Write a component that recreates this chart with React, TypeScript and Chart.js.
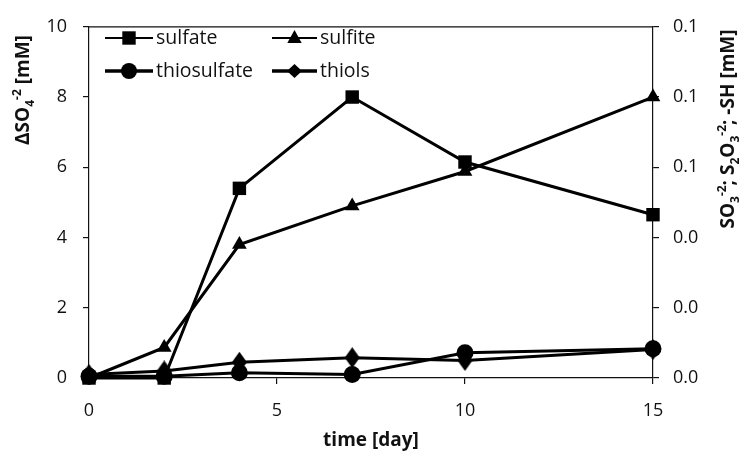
import React, { useEffect, useRef } from 'react';
import { Chart, registerables } from 'chart.js';
Chart.register(...registerables);

const days = [0, 2, 4, 7, 10, 15];
const sulfate = [0, 0, 5.4, 8.0, 6.15, 4.65];
const sulfite = [0, 0.0087, 0.038, 0.049, 0.0588, 0.08];
const thiosulfate = [0.0005, 0.0005, 0.0015, 0.001, 0.0072, 0.0083];
const thiols = [0.001, 0.002, 0.0045, 0.0058, 0.005, 0.0081];
const seriesLabels = ['sulfate', 'sulfite', 'thiosulfate', 'thiols'];

const FONT = '"Open Sans", "DejaVu Sans", sans-serif';
const INK = '#111';

type Seg = { t: string; k?: 'sub' | 'sup' };

const leftTitle: Seg[] = [{ t: 'ΔSO' }, { t: '4', k: 'sub' }, { t: '-2', k: 'sup' }, { t: ' [mM]' }];
const rightTitle: Seg[] = [
  { t: 'SO' }, { t: '3', k: 'sub' }, { t: '-2', k: 'sup' }, { t: '; S' }, { t: '2', k: 'sub' },
  { t: 'O' }, { t: '3', k: 'sub' }, { t: '-2', k: 'sup' }, { t: '; -SH [mM]' },
];

function drawRich(ctx: CanvasRenderingContext2D, segs: Seg[], cx: number, cy: number, rot: number, size: number) {
  ctx.save();
  ctx.translate(cx, cy);
  ctx.rotate(rot);
  ctx.fillStyle = INK;
  ctx.textBaseline = 'alphabetic';
  ctx.textAlign = 'left';
  const fontFor = (k?: string) => `bold ${k ? Math.round(size * 0.65) : size}px ${FONT}`;
  const widths = segs.map((s) => {
    ctx.font = fontFor(s.k);
    return ctx.measureText(s.t).width;
  });
  const total = widths.reduce((a, b) => a + b, 0);
  let x = -total / 2;
  const base = size * 0.36;
  segs.forEach((s, i) => {
    ctx.font = fontFor(s.k);
    const dy = s.k === 'sub' ? size * 0.25 : s.k === 'sup' ? -size * 0.42 : 0;
    ctx.fillText(s.t, x, base + dy);
    x += widths[i];
  });
  ctx.restore();
}

function makeDiamond(w: number, h: number): HTMLCanvasElement {
  const c = document.createElement('canvas');
  c.width = w;
  c.height = h;
  const g = c.getContext('2d')!;
  g.fillStyle = '#000';
  g.beginPath();
  g.moveTo(w / 2, 0);
  g.lineTo(w, h / 2);
  g.lineTo(w / 2, h);
  g.lineTo(0, h / 2);
  g.closePath();
  g.fill();
  return c;
}

function drawMarker(ctx: CanvasRenderingContext2D, kind: string, x: number, y: number) {
  ctx.fillStyle = '#000';
  ctx.beginPath();
  if (kind === 'square') {
    ctx.rect(x - 6.7, y - 6.7, 13.4, 13.4);
  } else if (kind === 'triangle') {
    ctx.moveTo(x, y - 8);
    ctx.lineTo(x + 7.2, y + 5);
    ctx.lineTo(x - 7.2, y + 5);
    ctx.closePath();
  } else if (kind === 'circle') {
    ctx.arc(x, y, 8, 0, Math.PI * 2);
  } else {
    ctx.moveTo(x, y - 7);
    ctx.lineTo(x + 7.5, y);
    ctx.lineTo(x, y + 7);
    ctx.lineTo(x - 7.5, y);
    ctx.closePath();
  }
  ctx.fill();
}

const decorPlugin = {
  id: 'decor',
  afterDraw(chart: any) {
    const ctx: CanvasRenderingContext2D = chart.ctx;
    const a = chart.chartArea;
    ctx.save();
    ctx.strokeStyle = INK;
    ctx.lineWidth = 1.2;
    ctx.beginPath();
    ctx.moveTo(a.left, a.top);
    ctx.lineTo(a.right, a.top);
    ctx.stroke();
    drawRich(ctx, leftTitle, 22, 90, -Math.PI / 2, 19);
    drawRich(ctx, rightTitle, 727, 129, -Math.PI / 2, 19);
    ctx.fillStyle = INK;
    ctx.font = `bold 19px ${FONT}`;
    ctx.textAlign = 'center';
    ctx.textBaseline = 'middle';
    ctx.fillText('time [day]', (a.left + a.right) / 2, 441);
    const items = [
      { label: seriesLabels[0], kind: 'square', x0: 105, x1: 153, y: 38, lw: 2 },
      { label: seriesLabels[1], kind: 'triangle', x0: 272, x1: 317, y: 38, lw: 2 },
      { label: seriesLabels[2], kind: 'circle', x0: 105, x1: 153, y: 71, lw: 3.5 },
      { label: seriesLabels[3], kind: 'diamond', x0: 272, x1: 317, y: 71, lw: 3.5 },
    ];
    items.forEach((it) => {
      ctx.strokeStyle = '#000';
      ctx.lineWidth = it.lw;
      ctx.beginPath();
      ctx.moveTo(it.x0, it.y);
      ctx.lineTo(it.x1, it.y);
      ctx.stroke();
      drawMarker(ctx, it.kind, (it.x0 + it.x1) / 2, it.y);
      ctx.fillStyle = INK;
      ctx.font = `19.5px ${FONT}`;
      ctx.textAlign = 'left';
      ctx.textBaseline = 'middle';
      ctx.fillText(it.label, it.x1 + 3, it.y);
    });
    ctx.restore();
  },
};

export default function App() {
  const ref = useRef<HTMLCanvasElement | null>(null);
  useEffect(() => {
    if (!ref.current) return;
    const diamond = makeDiamond(15, 21);
    const pts = (arr: number[]) => days.map((d, i) => ({ x: d, y: arr[i] }));
    const common = {
      borderColor: '#000',
      backgroundColor: '#000',
      pointBackgroundColor: '#000',
      pointBorderColor: '#000',
      pointBorderWidth: 0,
      borderWidth: 3,
      clip: false as any,
      tension: 0,
    };
    const axisGrid = { drawOnChartArea: false, drawTicks: true, tickLength: 6, color: INK, lineWidth: 1.2 };
    const axisBorder = { display: true, color: INK, width: 1.2 };
    const tickFont = { family: FONT, size: 18 };
    const chart = new Chart(ref.current, {
      type: 'line',
      data: {
        datasets: [
          { ...common, label: seriesLabels[0], data: pts(sulfate), yAxisID: 'y', pointStyle: 'rect', pointRadius: 9.5 },
          { ...common, label: seriesLabels[1], data: pts(sulfite), yAxisID: 'y1', pointStyle: 'triangle', pointRadius: 8.5 },
          { ...common, label: seriesLabels[2], data: pts(thiosulfate), yAxisID: 'y1', pointStyle: 'circle', pointRadius: 8.5 },
          { ...common, label: seriesLabels[3], data: pts(thiols), yAxisID: 'y1', pointStyle: diamond as any, pointRadius: 8 },
        ] as any,
      },
      options: {
        animation: false,
        responsive: false,
        events: [],
        layout: { padding: { top: 20, left: 0, right: 0, bottom: 0 } },
        plugins: { legend: { display: false }, tooltip: { enabled: false } },
        scales: {
          x: {
            type: 'linear',
            min: 0,
            max: 15,
            ticks: { stepSize: 5, color: INK, font: tickFont, padding: 16 },
            grid: axisGrid,
            border: axisBorder,
            afterFit: (s: any) => { s.height = 73; },
          },
          y: {
            type: 'linear',
            position: 'left',
            min: 0,
            max: 10,
            ticks: { stepSize: 2, color: INK, font: tickFont, padding: 16 },
            grid: axisGrid,
            border: axisBorder,
            afterFit: (s: any) => { s.width = 89; },
          },
          y1: {
            type: 'linear',
            position: 'right',
            min: 0,
            max: 0.1,
            ticks: {
              stepSize: 0.02,
              color: INK,
              font: tickFont,
              padding: 14,
              callback: (v: any) => Number(v).toFixed(1),
            },
            grid: axisGrid,
            border: axisBorder,
            afterFit: (s: any) => { s.width = 87; },
          },
        },
      } as any,
      plugins: [decorPlugin],
    });
    return () => chart.destroy();
  }, []);
  return (
    <div style={{ position: 'absolute', left: 0, top: 0, width: 740, height: 451, background: '#fff' }}>
      <canvas ref={ref} width={740} height={451} style={{ display: 'block', width: 740, height: 451 }} />
    </div>
  );
}
